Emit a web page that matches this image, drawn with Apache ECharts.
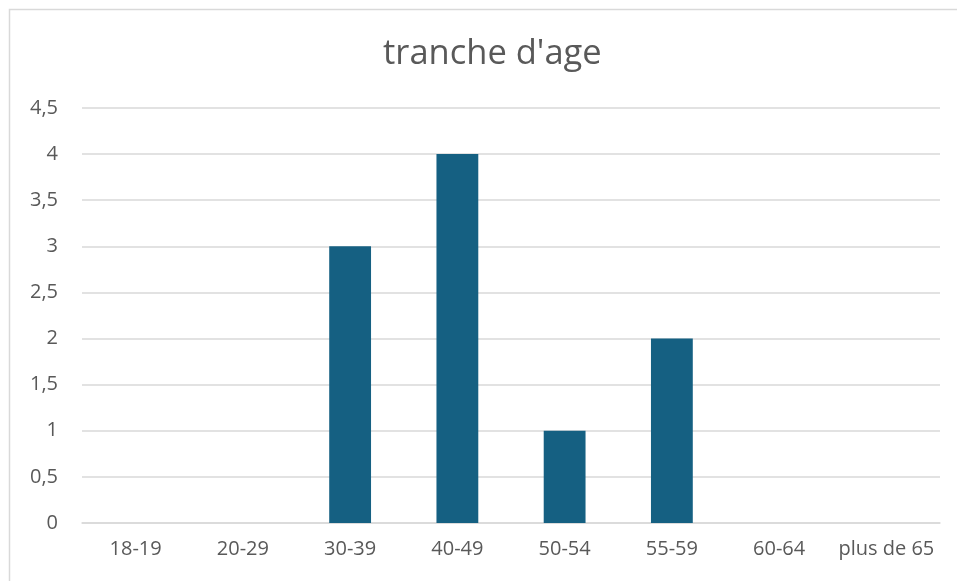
<!DOCTYPE html>
<html><head><meta charset="utf-8">
<script src="https://cdn.jsdelivr.net/npm/echarts@6/dist/echarts.min.js"></script>
<style>html,body{margin:0;padding:0;background:#fff}#c{width:957px;height:581px}</style>
</head><body><div id="c"></div>
<script>
const categories = ['18-19','20-29','30-39','40-49','50-54','55-59','60-64','plus de 65'];
const values = [0,0,3,4,1,2,0,0];
const titleText = "tranche d'age";

const chart = echarts.init(document.getElementById('c'));
chart.setOption({
  animation:false,
  backgroundColor:'#fff',
  graphic:[{type:'rect',shape:{x:9.5,y:9.5,width:960,height:600},style:{fill:'none',stroke:'#d9d9d9',lineWidth:1.5},silent:true,z:-1}],
  title:{text:titleText,left:378,top:32,textStyle:{fontFamily:'Open Sans',fontWeight:'normal',fontSize:34.5,color:'#595959'}},
  grid:{left:82,right:17,top:108,bottom:58},
  xAxis:{type:'category',data:categories,
    axisLine:{show:true,lineStyle:{color:'#d9d9d9',width:1.5}},axisTick:{show:false},
    axisLabel:{color:'#595959',fontSize:20,fontFamily:'Open Sans',margin:16,interval:0}},
  yAxis:{type:'value',min:0,max:4.5,interval:0.5,
    axisLine:{show:false},axisTick:{show:false},
    splitLine:{lineStyle:{color:'#d9d9d9',width:1.5}},
    axisLabel:{color:'#595959',fontSize:20,fontFamily:'Open Sans',margin:24,
      formatter:v=>String(v).replace('.',',')}},
  series:[{type:'bar',data:values,barWidth:'39%',itemStyle:{color:'#156082'}}]
});
</script></body></html>
